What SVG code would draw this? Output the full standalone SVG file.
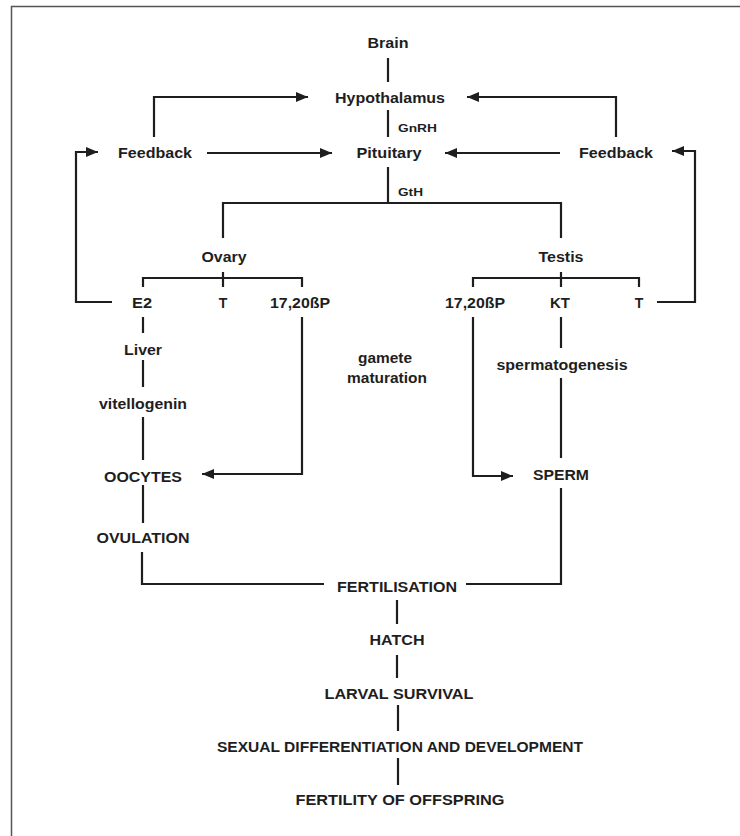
<svg xmlns="http://www.w3.org/2000/svg" width="740" height="836" viewBox="0 0 740 836">
<style>
text{font-family:"Liberation Sans",Arial,sans-serif;font-weight:bold;font-size:14px;fill:#1e1e1e;text-anchor:middle}
text.s{font-size:11px;text-anchor:start}
.c path{fill:none;stroke:#1e1e1e;stroke-width:2.2}
.frame{fill:none;stroke:#555;stroke-width:1.5}
</style>
<defs>
<marker id="ah" markerUnits="userSpaceOnUse" markerWidth="12" markerHeight="10" refX="12" refY="5" orient="auto">
<path d="M0,0 L12,5 L0,10 z" fill="#1e1e1e"/>
</marker>
</defs>
<rect width="740" height="836" fill="#fff"/>
<path class="frame" d="M11.5 836 V6.5 H740"/>
<g class="c" id="connectors">
<path d="M388 58 V82"/>
<path d="M388 110 V137"/>
<path d="M388 167 V203"/>
<path d="M223 238 V203 H561 V238"/>
<path d="M143 287 V278 H302 V287 M223 272 V287"/>
<path d="M473 287 V278 H639 V287 M561 272 V287"/>
<path d="M112 302 H76 V152 H98" marker-end="url(#ah)"/>
<path d="M154 137 V97 H308" marker-end="url(#ah)"/>
<path d="M207 153 H332" marker-end="url(#ah)"/>
<path d="M616 137 V97 H467" marker-end="url(#ah)"/>
<path d="M560 153 H445" marker-end="url(#ah)"/>
<path d="M657 302 H695 V151 H672" marker-end="url(#ah)"/>
<path d="M143 317 V333"/>
<path d="M143 360 V387"/>
<path d="M143 417 V460"/>
<path d="M143 485 V523"/>
<path d="M142 552 V584 H324"/>
<path d="M302 317 V474 H202" marker-end="url(#ah)"/>
<path d="M473 317 V476 H513" marker-end="url(#ah)"/>
<path d="M561 317 V348"/>
<path d="M561 378 V458"/>
<path d="M561 488 V584 H466"/>
<path d="M397 600 V624"/>
<path d="M397 655 V678"/>
<path d="M398 705 V731"/>
<path d="M398 758 V785"/>
</g>
<g id="brain"><text x="388" y="48" textLength="41" lengthAdjust="spacingAndGlyphs">Brain</text></g>
<g id="hypothalamus"><text x="390" y="103" textLength="110" lengthAdjust="spacingAndGlyphs">Hypothalamus</text></g>
<g id="gnrh"><text class="s" x="398" y="132" textLength="39" lengthAdjust="spacingAndGlyphs">GnRH</text></g>
<g id="pituitary"><text x="389" y="158" textLength="65" lengthAdjust="spacingAndGlyphs">Pituitary</text></g>
<g id="gth"><text class="s" x="398" y="196" textLength="25" lengthAdjust="spacingAndGlyphs">GtH</text></g>
<g id="feedback-left"><text x="155" y="158" textLength="74" lengthAdjust="spacingAndGlyphs">Feedback</text></g>
<g id="feedback-right"><text x="616" y="158" textLength="74" lengthAdjust="spacingAndGlyphs">Feedback</text></g>
<g id="ovary"><text x="224" y="262" textLength="45" lengthAdjust="spacingAndGlyphs">Ovary</text></g>
<g id="testis"><text x="561" y="262" textLength="45" lengthAdjust="spacingAndGlyphs">Testis</text></g>
<g id="e2"><text x="142" y="308" textLength="20" lengthAdjust="spacingAndGlyphs">E2</text></g>
<g id="t-ovary"><text x="223" y="308">T</text></g>
<g id="p-ovary"><text x="300" y="308" textLength="60" lengthAdjust="spacingAndGlyphs">17,20ßP</text></g>
<g id="p-testis"><text x="475" y="308" textLength="60" lengthAdjust="spacingAndGlyphs">17,20ßP</text></g>
<g id="kt"><text x="560" y="308" textLength="20" lengthAdjust="spacingAndGlyphs">KT</text></g>
<g id="t-testis"><text x="639" y="308">T</text></g>
<g id="liver"><text x="143" y="355" textLength="38" lengthAdjust="spacingAndGlyphs">Liver</text></g>
<g id="vitellogenin"><text x="143" y="409" textLength="88" lengthAdjust="spacingAndGlyphs">vitellogenin</text></g>
<g id="gamete-maturation"><text x="385" y="363" textLength="54" lengthAdjust="spacingAndGlyphs">gamete</text><text x="387" y="383" textLength="80" lengthAdjust="spacingAndGlyphs">maturation</text></g>
<g id="spermatogenesis"><text x="562" y="370" textLength="131" lengthAdjust="spacingAndGlyphs">spermatogenesis</text></g>
<g id="oocytes"><text x="143" y="482" textLength="78" lengthAdjust="spacingAndGlyphs">OOCYTES</text></g>
<g id="sperm"><text x="561" y="480" textLength="56" lengthAdjust="spacingAndGlyphs">SPERM</text></g>
<g id="ovulation"><text x="143" y="543" textLength="93" lengthAdjust="spacingAndGlyphs">OVULATION</text></g>
<g id="fertilisation"><text x="397" y="592" textLength="120" lengthAdjust="spacingAndGlyphs">FERTILISATION</text></g>
<g id="hatch"><text x="397" y="645" textLength="55" lengthAdjust="spacingAndGlyphs">HATCH</text></g>
<g id="larval-survival"><text x="399" y="699" textLength="149" lengthAdjust="spacingAndGlyphs">LARVAL SURVIVAL</text></g>
<g id="sexual-differentiation"><text x="400" y="752" textLength="366" lengthAdjust="spacingAndGlyphs">SEXUAL DIFFERENTIATION AND DEVELOPMENT</text></g>
<g id="fertility-of-offspring"><text x="400" y="805" textLength="209" lengthAdjust="spacingAndGlyphs">FERTILITY OF OFFSPRING</text></g>
</svg>
